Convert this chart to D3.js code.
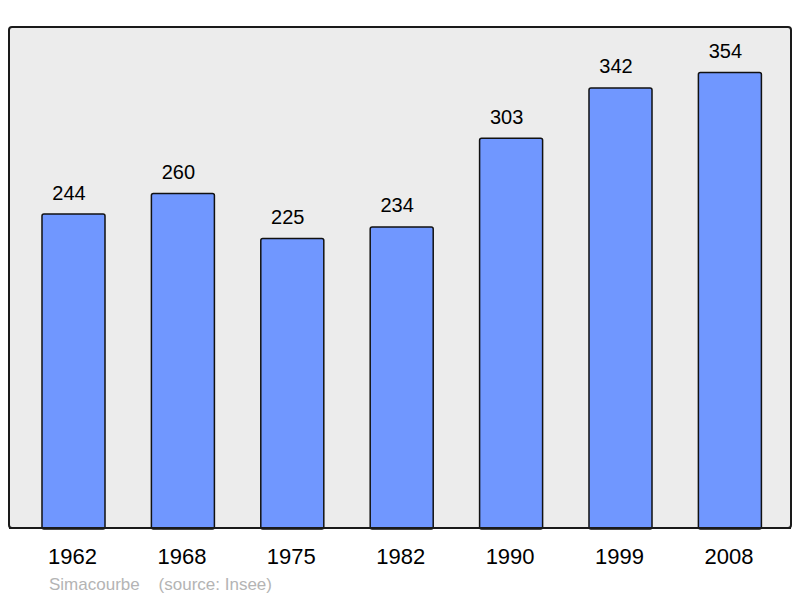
<!DOCTYPE html>
<html>
<head>
<meta charset="utf-8">
<script src="https://cdnjs.cloudflare.com/ajax/libs/d3/7.8.5/d3.min.js"></script>
<style>
html,body{margin:0;padding:0;background:#fff;}
svg{display:block;}
</style>
</head>
<body>
<svg id="chart" width="800" height="598"></svg>
<script>
const years = ["1962","1968","1975","1982","1990","1999","2008"];
const population = [244,260,225,234,303,342,354];
const yMax = 389.4;
const commune = "Simacourbe";
const source = "(source: Insee)";

const svg = d3.select("#chart");
const frame = {x:9, y:27, w:782, h:501};

svg.append("rect")
  .attr("x", frame.x).attr("y", frame.y)
  .attr("width", frame.w).attr("height", frame.h)
  .attr("rx", 3).attr("ry", 3)
  .attr("fill", "#ececec")
  .attr("stroke", "#1a1a1a").attr("stroke-width", 2);

const x = d3.scaleBand().domain(years).range([18.8, 784.6])
  .paddingInner(0.424).paddingOuter(0.212);
const y = d3.scaleLinear().domain([0, yMax]).range([frame.y + frame.h, frame.y]);

const g = svg.append("g");
g.selectAll("rect.bar").data(years).join("rect")
  .attr("class","bar")
  .attr("x", d => x(d))
  .attr("y", (d,i) => y(population[i]))
  .attr("width", x.bandwidth())
  .attr("height", (d,i) => y(0) - y(population[i]) + 1)
  .attr("rx", 2).attr("ry", 2)
  .attr("fill", "#7097ff")
  .attr("stroke", "#111").attr("stroke-width", 1.5);

svg.append("line")
  .attr("x1", frame.x).attr("x2", frame.x + frame.w)
  .attr("y1", frame.y + frame.h).attr("y2", frame.y + frame.h)
  .attr("stroke", "#1a1a1a").attr("stroke-width", 2);

g.selectAll("text.val").data(years).join("text")
  .attr("class","val")
  .attr("x", d => x(d) + x.bandwidth()/2 - 4.5)
  .attr("y", (d,i) => y(population[i]) - 14.5)
  .attr("text-anchor","middle")
  .attr("font-family","'Liberation Sans', Arial, sans-serif")
  .attr("font-size", 20)
  .attr("fill","#000")
  .text((d,i) => population[i]);

const xAxis = d3.axisBottom(x).tickSize(0).tickPadding(0);
const ax = svg.append("g").attr("transform", `translate(0,${frame.y+frame.h})`).call(xAxis);
ax.select(".domain").remove();
ax.selectAll("text")
  .attr("y", 36).attr("dy", 0)
  .attr("dx", -1)
  .attr("font-family","'Liberation Sans', Arial, sans-serif")
  .attr("font-size", 22)
  .attr("fill","#000");

svg.append("text")
  .attr("x", 49).attr("y", 590)
  .attr("font-family","'Liberation Sans', Arial, sans-serif")
  .attr("font-size", 17)
  .attr("fill","#b4b4b4")
  .attr("xml:space","preserve")
  .style("white-space","pre")
  .text(commune + "    " + source);
</script>
</body>
</html>
